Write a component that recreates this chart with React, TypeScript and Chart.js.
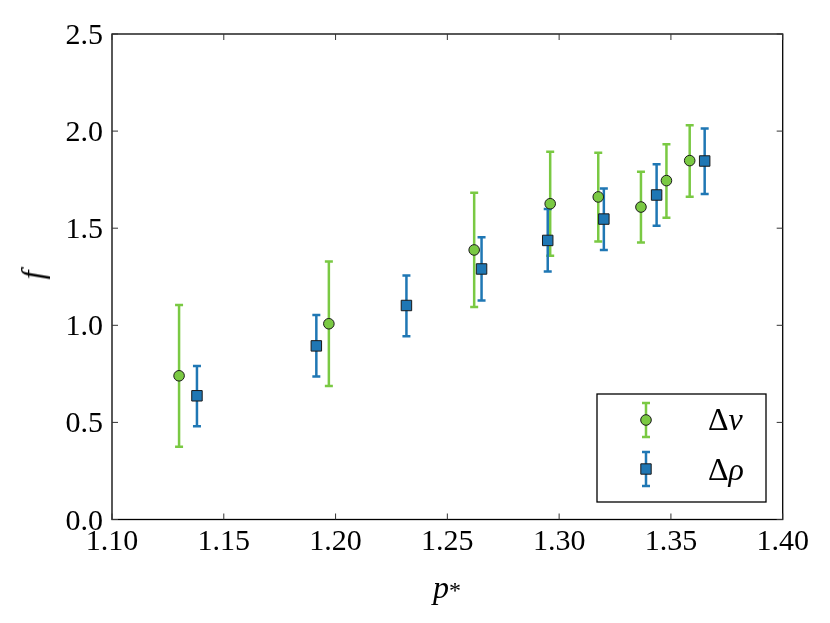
import { useEffect, useRef, useState } from 'react';
import { Chart, ChartConfiguration, Plugin, registerables } from 'chart.js';

Chart.register(...registerables);

// Δv series (green circles)
const dvP = [1.130, 1.197, 1.262, 1.296, 1.3175, 1.3366, 1.348, 1.3584];
const dvF = [0.740, 1.008, 1.388, 1.626, 1.661, 1.609, 1.745, 1.848];
const dvLo = [0.375, 0.687, 1.094, 1.358, 1.432, 1.427, 1.554, 1.662];
const dvHi = [1.104, 1.328, 1.683, 1.894, 1.889, 1.791, 1.932, 2.030];

// Δρ series (blue squares)
const drP = [1.138, 1.1914, 1.2317, 1.2653, 1.2949, 1.3200, 1.3436, 1.3651];
const drF = [0.637, 0.894, 1.102, 1.290, 1.437, 1.547, 1.671, 1.846];
const drLo = [0.480, 0.736, 0.944, 1.128, 1.277, 1.388, 1.513, 1.676];
const drHi = [0.790, 1.053, 1.257, 1.453, 1.599, 1.704, 1.829, 2.014];

const GREEN = '#7ac943';
const BLUE = '#1f77b4';
const EDGE = '#1a1a1a';
// canvas text here falls back to a sans face, so the labels are DOM text on top
const FONT = '"Liberation Serif"';

const errLo = [dvLo, drLo];
const errHi = [dvHi, drHi];
const errColor = [GREEN, BLUE];

interface TickLabel {
  text: string;
  left: number;
  top: number;
  axis: 'x' | 'y';
}

function drawErrorBar(ctx: CanvasRenderingContext2D, x: number, y1: number, y2: number, color: string) {
  ctx.save();
  ctx.strokeStyle = color;
  ctx.lineWidth = 2.5;
  ctx.beginPath();
  ctx.moveTo(x, y1);
  ctx.lineTo(x, y2);
  ctx.moveTo(x - 4, y1);
  ctx.lineTo(x + 4, y1);
  ctx.moveTo(x - 4, y2);
  ctx.lineTo(x + 4, y2);
  ctx.stroke();
  ctx.restore();
}

const errorBars: Plugin = {
  id: 'errorBars',
  beforeDatasetsDraw(chart) {
    const ctx = chart.ctx;
    const y = chart.scales.y;
    chart.data.datasets.forEach((_, i) => {
      const meta = chart.getDatasetMeta(i);
      meta.data.forEach((pt, j) => {
        drawErrorBar(ctx, pt.x, y.getPixelForValue(errHi[i][j]), y.getPixelForValue(errLo[i][j]), errColor[i]);
      });
    });
  },
};

// frame, inward ticks and the legend box with its markers
const decorations: Plugin = {
  id: 'decorations',
  afterDatasetsDraw(chart) {
    const ctx = chart.ctx;
    const { left, right, top, bottom } = chart.chartArea;
    const xs = chart.scales.x;
    const ys = chart.scales.y;
    ctx.save();
    ctx.strokeStyle = '#000';
    ctx.lineWidth = 1.3;
    ctx.strokeRect(left, top, right - left, bottom - top);

    ctx.strokeStyle = '#333';
    ctx.lineWidth = 1;
    ctx.beginPath();
    ys.ticks.forEach((t) => {
      const p = ys.getPixelForValue(t.value);
      ctx.moveTo(left, p);
      ctx.lineTo(left + 6, p);
      ctx.moveTo(right, p);
      ctx.lineTo(right - 6, p);
    });
    xs.ticks.forEach((t) => {
      const p = xs.getPixelForValue(t.value);
      ctx.moveTo(p, bottom);
      ctx.lineTo(p, bottom - 6);
      ctx.moveTo(p, top);
      ctx.lineTo(p, top + 6);
    });
    ctx.stroke();

    // legend
    const lx = 597, ly = 394, lw = 169, lh = 108;
    ctx.fillStyle = '#fff';
    ctx.fillRect(lx, ly, lw, lh);
    ctx.strokeStyle = '#000';
    ctx.lineWidth = 1.3;
    ctx.strokeRect(lx, ly, lw, lh);

    const mx = 646;
    const rows = [
      { y: 420, color: GREEN, shape: 'circle' },
      { y: 469, color: BLUE, shape: 'rect' },
    ];
    rows.forEach((r) => {
      drawErrorBar(ctx, mx, r.y - 17, r.y + 17, r.color);
      ctx.fillStyle = r.color;
      ctx.strokeStyle = EDGE;
      ctx.lineWidth = 1;
      ctx.beginPath();
      if (r.shape === 'circle') ctx.arc(mx, r.y, 5.3, 0, Math.PI * 2);
      else ctx.rect(mx - 5.2, r.y - 5.2, 10.4, 10.4);
      ctx.fill();
      ctx.stroke();
    });
    ctx.restore();
  },
};

export default function App() {
  const canvasRef = useRef<HTMLCanvasElement>(null);
  const chartRef = useRef<Chart | null>(null);
  const [labels, setLabels] = useState<TickLabel[]>([]);

  useEffect(() => {
    if (!canvasRef.current) return;
    if (chartRef.current) chartRef.current.destroy();

    const config: ChartConfiguration<'scatter'> = {
      type: 'scatter',
      data: {
        datasets: [
          {
            label: 'Δv',
            data: dvP.map((p, i) => ({ x: p, y: dvF[i] })),
            pointStyle: 'circle',
            pointRadius: 5.3,
            backgroundColor: GREEN,
            borderColor: EDGE,
            borderWidth: 1,
          },
          {
            label: 'Δρ',
            data: drP.map((p, i) => ({ x: p, y: drF[i] })),
            pointStyle: 'rect',
            pointRadius: 7.4,
            backgroundColor: BLUE,
            borderColor: EDGE,
            borderWidth: 1,
          },
        ],
      },
      options: {
        responsive: false,
        animation: false,
        layout: { padding: { left: 0, right: 47.3, top: 34, bottom: 0 } },
        plugins: {
          legend: { display: false },
          tooltip: { enabled: false },
        },
        scales: {
          x: {
            type: 'linear',
            min: 1.1,
            max: 1.4,
            grid: { display: false },
            border: { display: false },
            ticks: { stepSize: 0.05, display: false },
            afterFit: (s) => { s.height = 103.5; },
          },
          y: {
            min: 0,
            max: 2.5,
            grid: { display: false },
            border: { display: false },
            ticks: { stepSize: 0.5, display: false },
            afterFit: (s) => { s.width = 112; },
          },
        },
      },
      plugins: [errorBars, decorations],
    };

    const chart = new Chart(canvasRef.current, config);
    chartRef.current = chart;

    // tick labels placed from the chart's own scales
    const xs = chart.scales.x;
    const ys = chart.scales.y;
    const area = chart.chartArea;
    setLabels([
      ...xs.ticks.map((t) => ({
        text: Number(t.value).toFixed(2),
        left: xs.getPixelForValue(t.value),
        top: area.bottom + 5.5,
        axis: 'x' as const,
      })),
      ...ys.ticks.map((t) => ({
        text: Number(t.value).toFixed(1),
        left: area.left - 9,
        top: ys.getPixelForValue(t.value),
        axis: 'y' as const,
      })),
    ]);

    return () => {
      chart.destroy();
      chartRef.current = null;
    };
  }, []);

  const text = { position: 'absolute' as const, fontFamily: FONT, color: '#000', whiteSpace: 'nowrap' as const };

  return (
    <div style={{ position: 'absolute', left: 0, top: 0, width: 830, height: 623, background: '#fff' }}>
      <canvas ref={canvasRef} width={830} height={623} style={{ display: 'block', position: 'absolute', left: 0, top: 0 }} />
      {labels.map((l) => (
        <div
          key={l.axis + l.text}
          style={{
            ...text,
            left: l.left,
            top: l.top,
            fontSize: 30,
            lineHeight: '30px',
            transform: l.axis === 'x' ? 'translateX(-50%)' : 'translate(-100%, -50%)',
          }}
        >
          {l.text}
        </div>
      ))}
      <div style={{ ...text, left: 433, top: 571, fontSize: 32, lineHeight: '32px' }}>
        <i>p</i>
        <span style={{ fontSize: 24 }}>*</span>
      </div>
      <div
        style={{
          ...text,
          left: 32,
          top: 275,
          fontSize: 32,
          lineHeight: '32px',
          fontStyle: 'italic',
          transform: 'translate(-50%, -50%) rotate(-90deg)',
        }}
      >
        f
      </div>
      <div style={{ ...text, left: 708, top: 403, fontSize: 32, lineHeight: '32px' }}>
        Δ<i>v</i>
      </div>
      <div style={{ ...text, left: 708, top: 453, fontSize: 32, lineHeight: '32px' }}>
        Δ<i>ρ</i>
      </div>
    </div>
  );
}
